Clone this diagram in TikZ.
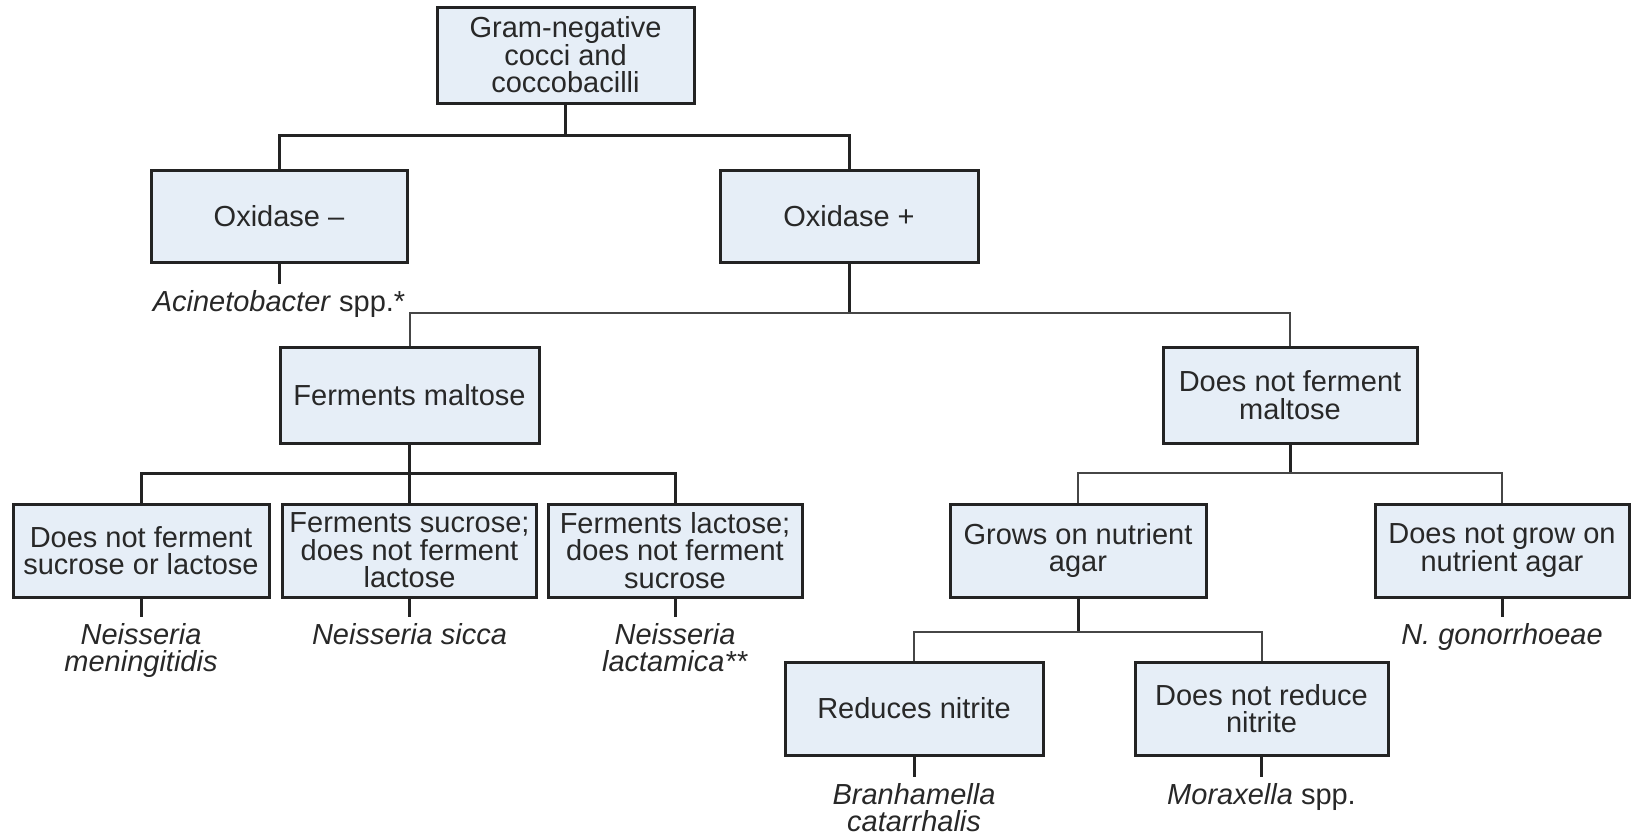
\documentclass[tikz,border=0pt]{standalone}
\usepackage{fontspec}
\setmainfont{Liberation Sans}
\definecolor{boxfill}{RGB}{230,238,247}
\definecolor{txt}{RGB}{40,40,40}
\definecolor{ln}{RGB}{35,35,35}
\definecolor{lnthin}{RGB}{70,70,70}
\begin{document}
\begin{tikzpicture}[x=0.5pt,y=-0.5pt,
  box/.style={draw=ln, line width=1.5pt, fill=boxfill, align=center, inner sep=0pt, text=txt,
    font=\fontsize{14.5}{13.8}\selectfont},
  spec/.style={align=center, inner sep=0pt, outer sep=3pt, text=txt,
    font=\fontsize{14.5}{13.8}\selectfont},
  thk/.style={draw=ln, line width=1.5pt},
  thn/.style={draw=lnthin, line width=1pt}]
\useasboundingbox (0,0) rectangle (1636,835);

% boxes
\node[box, minimum width=128.5pt, minimum height=48pt] (root) at (565.5,55) {Gram-negative\\cocci and\\coccobacilli};
\node[box, minimum width=128pt, minimum height=46pt] (oxm) at (279,216) {Oxidase –};
\node[box, minimum width=129pt, minimum height=46pt] (oxp) at (849,216) {Oxidase +};
\node[box, minimum width=129.5pt, minimum height=48pt] (fm) at (409.5,395) {Ferments maltose};
\node[box, minimum width=127pt, minimum height=48pt] (nfm) at (1290,395) {Does not ferment\\maltose};
\node[box, minimum width=128pt, minimum height=46.5pt] (a) at (141,550.5) {Does not ferment\\sucrose or lactose};
\node[box, minimum width=127pt, minimum height=46.5pt] (b) at (409.5,550.5) {Ferments sucrose;\\does not ferment\\lactose};
\node[box, minimum width=127pt, minimum height=46.5pt] (c) at (675,550.5) {Ferments lactose;\\does not ferment\\sucrose};
\node[box, minimum width=128pt, minimum height=46.5pt] (g) at (1078,550.5) {Grows on nutrient\\agar};
\node[box, minimum width=127pt, minimum height=46.5pt] (ng) at (1502,550.5) {Does not grow on\\nutrient agar};
\node[box, minimum width=129pt, minimum height=46.5pt] (r) at (914,708.5) {Reduces nitrite};
\node[box, minimum width=126.5pt, minimum height=46.5pt] (nr) at (1261.5,708.5) {Does not reduce\\nitrite};

% species labels
\node[spec, anchor=north] (acin) at (279,284) {\textit{Acinetobacter} spp.*};
\node[spec, anchor=north] (sa) at (141,617) {\textit{Neisseria}\\\textit{meningitidis}};
\node[spec, anchor=north] (sb) at (409.5,617) {\textit{Neisseria sicca}};
\node[spec, anchor=north] (sc) at (675,617) {\textit{Neisseria}\\\textit{lactamica**}};
\node[spec, anchor=north] (sng) at (1502,617) {\textit{N. gonorrhoeae}};
\node[spec, anchor=north] (sr) at (914,777) {\textit{Branhamella}\\\textit{catarrhalis}};
\node[spec, anchor=north] (snr) at (1261.5,777) {\textit{Moraxella} spp.};

% junctions
\coordinate (j0) at (565.5,135);
\coordinate (j1) at (849,313);
\coordinate (j2) at (409.5,473);
\coordinate (j3) at (1290,473);
\coordinate (j4) at (1078,632);

% connectors
\draw[thk] (root.south) -- (j0);
\draw[thk] (oxm.north) -- (oxm.north |- j0) -- (oxp.north |- j0) -- (oxp.north);
\draw[thk] (oxm.south) -- (acin.north);

\draw[thk] (oxp.south) -- (j1);
\draw[thn] (fm.north) -- (fm.north |- j1) -- (nfm.north |- j1) -- (nfm.north);

\draw[thk] (fm.south) -- (j2);
\draw[thk] (a.north) -- (a.north |- j2) -- (c.north |- j2) -- (c.north);
\draw[thk] (j2) -- (b.north);

\draw[thk] (nfm.south) -- (j3);
\draw[thn] (g.north) -- (g.north |- j3) -- (ng.north |- j3) -- (ng.north);

\draw[thk] (g.south) -- (j4);
\draw[thn] (r.north) -- (r.north |- j4) -- (nr.north |- j4) -- (nr.north);

\draw[thk] (a.south) -- (sa.north);
\draw[thk] (b.south) -- (sb.north);
\draw[thk] (c.south) -- (sc.north);
\draw[thk] (ng.south) -- (sng.north);
\draw[thk] (r.south) -- (sr.north);
\draw[thk] (nr.south) -- (snr.north);
\end{tikzpicture}
\end{document}
